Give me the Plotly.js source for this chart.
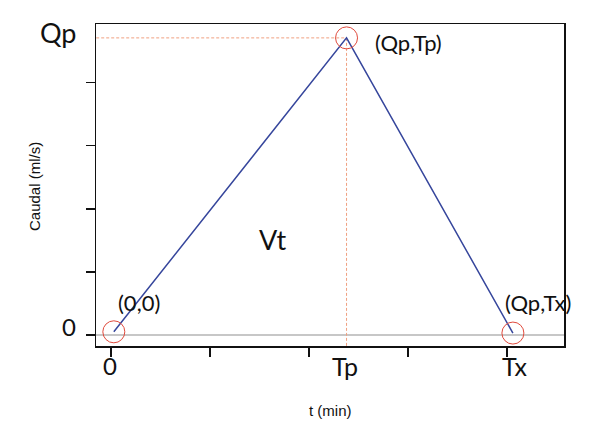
<!DOCTYPE html>
<html>
<head>
<meta charset="utf-8">
<script src="https://cdn.plot.ly/plotly-3.0.1.min.js"></script>
<style>html,body{margin:0;padding:0;background:#fff;}#chart{width:609px;height:432px;}</style>
</head>
<body>
<div id="chart"></div>
<script>
// Data (arbitrary units)
var pointX = [0.03, 2.38, 4.06];
var pointY = [0.05, 4.71, 0.03];
var xTicks = [0, 1, 2, 3, 4];
var yTicks = [0, 1, 2, 3, 4];
var xRange = [-0.15, 4.576];
var yRange = [-0.175, 4.93];
var peakX = pointX[1], peakY = pointY[1];

// labels: [text, px, py, size]
var labelFont = 'Lato, "Open Sans", sans-serif';
var labels = [
  ['Qp', 58, 32, 27],
  ['0', 69, 326, 24],
  ['0', 110, 366, 24],
  ['Tp', 345, 366, 25],
  ['Tx', 515, 366, 25],
  ['Vt', 273, 240, 27],
  ['(0,0)', 139, 302, 22],
  ['(Qp,Tp)', 408, 43, 22],
  ['(Qp,Tx)', 538, 302, 22]
];
var L = 96, R = 564, T = 24, B = 346;
function px2x(px){ return (px - L) / (R - L); }
function py2y(py){ return (B - py) / (B - T); }

var annotations = labels.map(function(l){
  return {text: l[0], xref: 'paper', yref: 'paper', x: px2x(l[1]), y: py2y(l[2]),
    xanchor: 'center', yanchor: 'middle', showarrow: false,
    font: {family: labelFont, size: l[3], color: '#111'}};
});
annotations.push({text: 't (min)', xref: 'paper', yref: 'paper', x: px2x(330), y: py2y(410),
  xanchor: 'center', yanchor: 'middle', showarrow: false,
  font: {family: 'Liberation Sans, Arial, sans-serif', size: 15, color: '#111'}});
annotations.push({text: 'Caudal (ml/s)', xref: 'paper', yref: 'paper', x: px2x(35), y: py2y(186),
  xanchor: 'center', yanchor: 'middle', showarrow: false, textangle: -90,
  font: {family: 'Liberation Sans, Arial, sans-serif', size: 15, color: '#111'}});

var traces = [
  {x: [xRange[0], xRange[1]], y: [0, 0], mode: 'lines', line: {color: '#b4b4b4', width: 1.5}, hoverinfo: 'skip'},
  {x: [xRange[0] - 0.2, peakX], y: [peakY, peakY], mode: 'lines', line: {color: '#f0a080', width: 1, dash: '3px,2px'}, hoverinfo: 'skip'},
  {x: [peakX, peakX], y: [peakY, yRange[0] - 0.2], mode: 'lines', line: {color: '#f0a080', width: 1, dash: '3px,2px'}, hoverinfo: 'skip'},
  {x: pointX, y: pointY, mode: 'lines', line: {color: '#36469c', width: 1.5}},
  {x: pointX, y: pointY, mode: 'markers', cliponaxis: false,
   marker: {symbol: 'circle-open', size: 22, color: '#e04a3c', line: {width: 1, color: '#e04a3c'}}}
];

var axisCommon = {showgrid: false, zeroline: false, showline: true, mirror: true,
  linecolor: '#111', linewidth: 1.5, ticks: 'outside', ticklen: 9, tickwidth: 1.5,
  tickcolor: '#111', showticklabels: false, fixedrange: true};

var layout = {
  width: 609, height: 432,
  margin: {l: L, r: 609 - R, t: T, b: 432 - B, pad: 0},
  paper_bgcolor: '#fff', plot_bgcolor: '#fff',
  showlegend: false,
  xaxis: Object.assign({}, axisCommon, {range: xRange, tickvals: xTicks}),
  yaxis: Object.assign({}, axisCommon, {range: yRange, tickvals: yTicks}),
  annotations: annotations
};

Plotly.newPlot('chart', traces, layout, {displayModeBar: false, staticPlot: true});
</script>
</body>
</html>
